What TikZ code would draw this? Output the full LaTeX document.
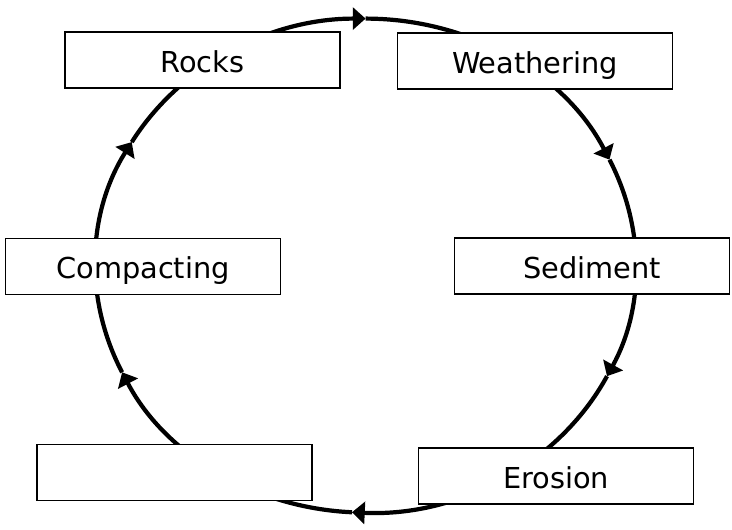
\documentclass[tikz,border=0pt]{standalone}
\usepackage{fontspec}
\setmainfont{DejaVu Sans}
\usetikzlibrary{arrows.meta,calc}

\begin{document}
\begin{tikzpicture}[
        stage/.style={draw, line width=1pt, fill=white, inner sep=0pt,
            minimum width=6.875cm, minimum height=1.4cm,
            text height=0.62cm, text depth=0cm,
            font=\fontsize{20.5}{23}\selectfont},
        cycleline/.style={line width=3pt,
            -{Triangle[length=0.32cm,width=0.55cm]}}]
        \useasboundingbox (0,0) rectangle (18.3,13.25);

        \coordinate (c) at (9.14,6.61);
        \coordinate (tip1) at ($(c)+(150:6.75 and 6.175)$);
        \coordinate (tip2) at ($(c)+(90:6.75 and 6.175)$);
        \coordinate (tip3) at ($(c)+(25.4:6.75 and 6.175)$);
        \coordinate (tip4) at ($(c)+(-26.6:6.75 and 6.175)$);
        \coordinate (tip5) at ($(c)+(-92.9:6.75 and 6.175)$);
        \coordinate (tip6) at ($(c)+(-154.4:6.75 and 6.175)$);

        \draw[cycleline] (tip1) arc[start angle=150, end angle=90, x radius=6.75, y radius=6.175];
        \draw[cycleline] (tip2) arc[start angle=90, end angle=25.4, x radius=6.75, y radius=6.175];
        \draw[cycleline] (tip3) arc[start angle=25.4, end angle=-26.6, x radius=6.75, y radius=6.175];
        \draw[cycleline] (tip4) arc[start angle=-26.6, end angle=-92.9, x radius=6.75, y radius=6.175];
        \draw[cycleline] (tip5) arc[start angle=-92.9, end angle=-154.4, x radius=6.75, y radius=6.175];
        \draw[cycleline] (tip6) arc[start angle=-154.4, end angle=-210, x radius=6.75, y radius=6.175];

        \node[stage] (rocks) at (5.06,11.75) {Rocks};
        \node[stage] (weathering) at (13.375,11.725) {Weathering};
        \node[stage] (sediment) at (14.8,6.6) {Sediment};
        \node[stage] (erosion) at (13.9,1.35) {Erosion};
        \node[stage] (blank) at (4.36,1.44) {};
        \node[stage] (compacting) at (3.575,6.59) {Compacting};
    \end{tikzpicture}
\end{document}
